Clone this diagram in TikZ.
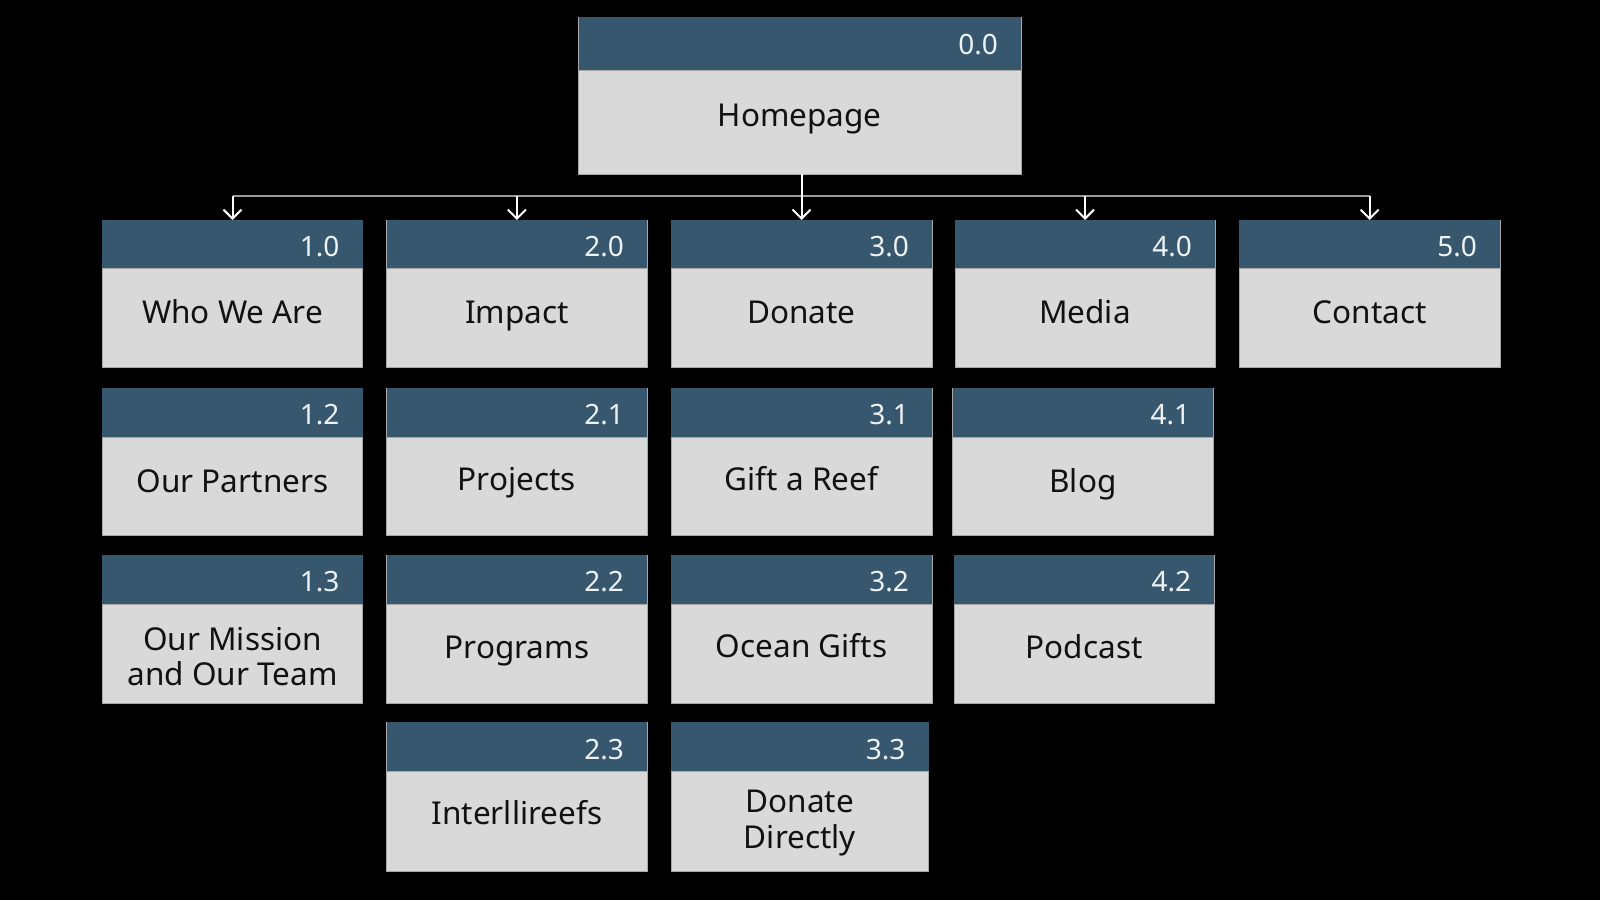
\documentclass[tikz,border=0pt]{standalone}
\usepackage{fontspec}
\setmainfont{Noto Sans}
\usetikzlibrary{arrows.meta}
\definecolor{hdrcol}{HTML}{37576F}
\definecolor{bodycol}{HTML}{D9D9D9}
\definecolor{linegray}{HTML}{9A9A9A}
\definecolor{numcol}{HTML}{EEF2F5}
\definecolor{edgecol}{HTML}{A8A8A8}
\definecolor{txtcol}{HTML}{111111}
\tikzset{
  pagebox/.style={draw=edgecol, line width=1pt, fill=bodycol, inner sep=0pt, outer sep=0pt, anchor=north west},
  hdrbar/.style={fill=hdrcol},
  numtxt/.style={text=numcol, font=\fontsize{28}{32}\selectfont, anchor=base east, inner sep=0pt},
  bodytxt/.style={text=txtcol, font=\fontsize{31.5}{35.7}\selectfont, anchor=base, align=center, inner sep=0pt},
  link/.style={draw=white, line width=2pt, -{Straight Barb[length=9pt,width=18pt]}},
  rail/.style={draw=linegray, line width=2pt}
}
% #1 name, #2 x1, #3 y1, #4 x2, #5 y2, #6 number, #7 text, #8 last baseline below header, #9 header height
\newcommand\pgbox[9]{%
  \node[pagebox, minimum width={#4pt-#2pt}, minimum height={#5pt-#3pt}] (#1) at (#2,#3) {};
  \fill[hdrbar] (#1.north west) rectangle ([yshift=-#9pt]#1.north east);
  \draw[edgecol, line width=1pt] ([yshift=-#9pt]#1.north west) -- ([yshift=-#9pt]#1.north east);
  \node[numtxt] (#1-n) at ([xshift=-23pt, yshift=-36.7pt]#1.north east) {#6};
  \node[bodytxt] (#1-t) at ([yshift={-#9pt-#8pt}]#1.north) {#7};
}
\begin{document}
\begin{tikzpicture}[x=1pt, y=-1pt]
\useasboundingbox[fill=black] (0,0) rectangle (1600,900);

\pgbox{home}{578.5}{17.3}{1021}{174.3}{0.0}{Homepage}{56.7}{52.7}

\pgbox{b10}{102.3}{220}{362.7}{367.7}{1.0}{Who We Are}{55}{48.3}
\pgbox{b20}{386.7}{220}{647}{367.7}{2.0}{Impact}{55}{48.3}
\pgbox{b30}{671}{220}{932}{367.7}{3.0}{Donate}{55}{48.3}
\pgbox{b40}{955}{220}{1215}{367.7}{4.0}{Media}{55}{48.3}
\pgbox{b50}{1239.3}{220}{1500}{367.7}{5.0}{Contact}{55}{48.3}

\pgbox{b12}{102.3}{388}{362.7}{535.5}{1.2}{Our Partners}{55}{49}
\pgbox{b21}{386.7}{388}{647}{535.5}{2.1}{Projects}{53}{49}
\pgbox{b31}{671}{388}{932}{535.5}{3.1}{Gift a Reef}{53}{49}
\pgbox{b41}{952.7}{388}{1213.3}{535.5}{4.1}{Blog}{55}{49}

\pgbox{b13}{102.3}{555}{362.7}{703.3}{1.3}{Our Mission\\and Our Team}{81.4}{49.3}
\pgbox{b22}{386.7}{555}{647}{703.3}{2.2}{Programs}{54}{49.3}
\pgbox{b32}{671}{555}{932}{703.3}{3.2}{Ocean Gifts}{53}{49.3}
\pgbox{b42}{954}{555}{1214.3}{703.3}{4.2}{Podcast}{54}{49.3}

\pgbox{b23}{386.7}{722.3}{647}{871}{2.3}{Interllireefs}{52.6}{49.4}
\pgbox{b33}{671}{722.3}{928.7}{871}{3.3}{Donate\\Directly}{76.6}{49.4}

\coordinate (rail) at (0,196);
\draw[rail] (b10.north |- rail) -- (b50.north |- rail);
\draw[link] (b10.north |- rail) -- (b10.north);
\draw[link] (b20.north |- rail) -- (b20.north);
\draw[link] (b30.north |- home.south) -- (b30.north);
\draw[link] (b40.north |- rail) -- (b40.north);
\draw[link] (b50.north |- rail) -- (b50.north);
\end{tikzpicture}
\end{document}
